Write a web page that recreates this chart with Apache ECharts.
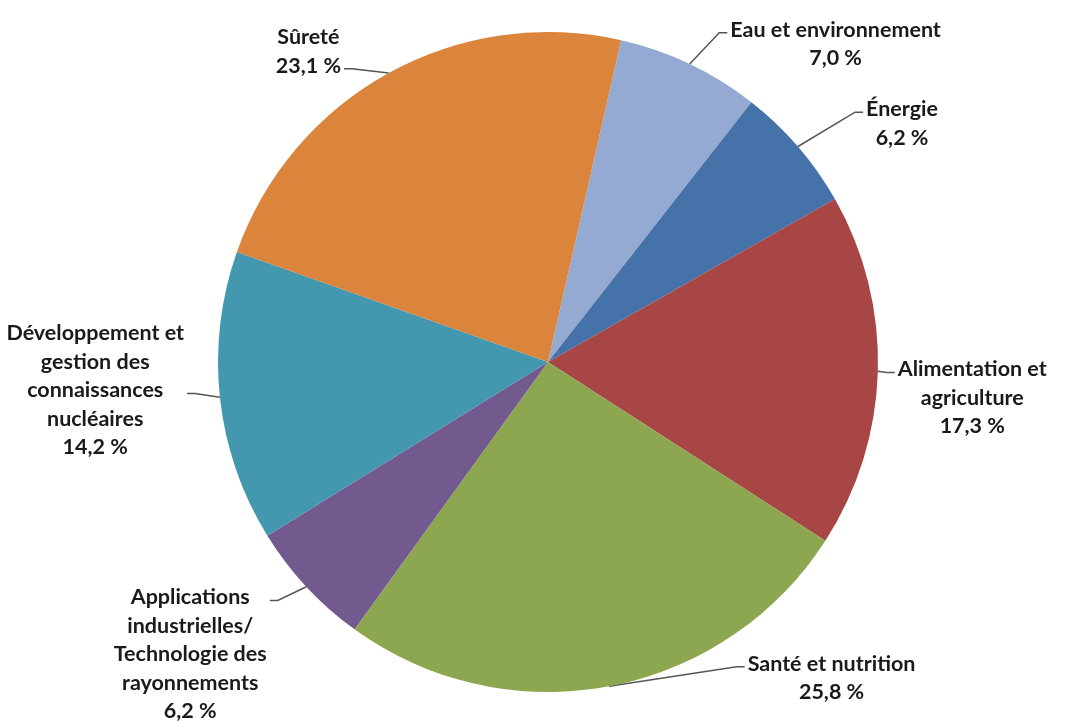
<!DOCTYPE html>
<html>
<head>
<meta charset="utf-8">
<script src="https://cdn.jsdelivr.net/npm/echarts@6/dist/echarts.min.js"></script>
<style>
html,body{margin:0;padding:0;background:#fff;}
#main{width:1067px;height:722px;}
</style>
</head>
<body>
<div id="main"></div>
<script>
var categories = [
  "Eau et environnement",
  "Énergie",
  "Alimentation et\nagriculture",
  "Santé et nutrition",
  "Applications\nindustrielles/\nTechnologie des\nrayonnements",
  "Développement et\ngestion des\nconnaissances\nnucléaires",
  "Sûreté"
];
var values = [7.0, 6.2, 17.3, 25.8, 6.2, 14.2, 23.1];
var colors = ["#94AAD2", "#4672AA", "#A84545", "#8CA750", "#725A8F", "#4398B0", "#DA843C"];

// label styling: label nudges and which text line the leader attaches to (style, not data)
var labelStyle = [
  {dx: 17, dy: -2, attach: 0},
  {dx: 38, dy: -10, attach: 0},
  {dx: -15, dy: 26, attach: 0},
  {dx: 120, dy: -28, attach: 0},
  {dx: -10, dy: 54, attach: 0},
  {dx: -1, dy: -9, attach: 2},
  {dx: -23, dy: -4, attach: 1}
];
var LINE_H = 28.5;

var chart = echarts.init(document.getElementById('main'));
var data = categories.map(function (c, i) {
  return {
    name: c,
    value: values[i],
    itemStyle: {color: colors[i]}
  };
});
chart.setOption({
  animation: false,
  backgroundColor: '#fff',
  series: [{
    type: 'pie',
    center: [548, 362],
    radius: [0, 330],
    startAngle: 77.2,
    clockwise: true,
    avoidLabelOverlap: false,
    itemStyle: {borderWidth: 0},
    label: {
      show: true,
      position: 'outside',
      fontFamily: 'Lato',
      fontWeight: 'bold',
      fontSize: 21.5,
      lineHeight: LINE_H,
      color: '#1a1a1a',
      formatter: function (p) {
        return p.name + '\n' + p.value.toFixed(1).replace('.', ',') + '\u00a0%';
      }
    },
    labelLine: {
      show: true,
      length: 20,
      length2: 10,
      lineStyle: {color: '#555', width: 1.5}
    },
    labelLayout: function (params) {
      var r = params.labelRect;
      var s = labelStyle[params.dataIndex];
      var cx = r.x + r.width / 2 + s.dx;
      var cy = r.y + r.height / 2 + s.dy;
      var top = r.y + s.dy;
      var res = {x: cx, y: cy, align: 'center', verticalAlign: 'middle'};
      var pts = params.labelLinePoints;
      if (pts && pts.length) {
        var a = pts[0];
        var ly = top + LINE_H * (s.attach + 0.5) + 3;
        var right = cx > a[0];
        var ex = right ? (r.x + s.dx - 3) : (r.x + r.width + s.dx + 3);
        var elx = right ? ex - 8 : ex + 8;
        res.labelLinePoints = [[a[0], a[1]], [elx, ly], [ex, ly]];
      }
      return res;
    },
    data: data
  }]
});
</script>
</body>
</html>
